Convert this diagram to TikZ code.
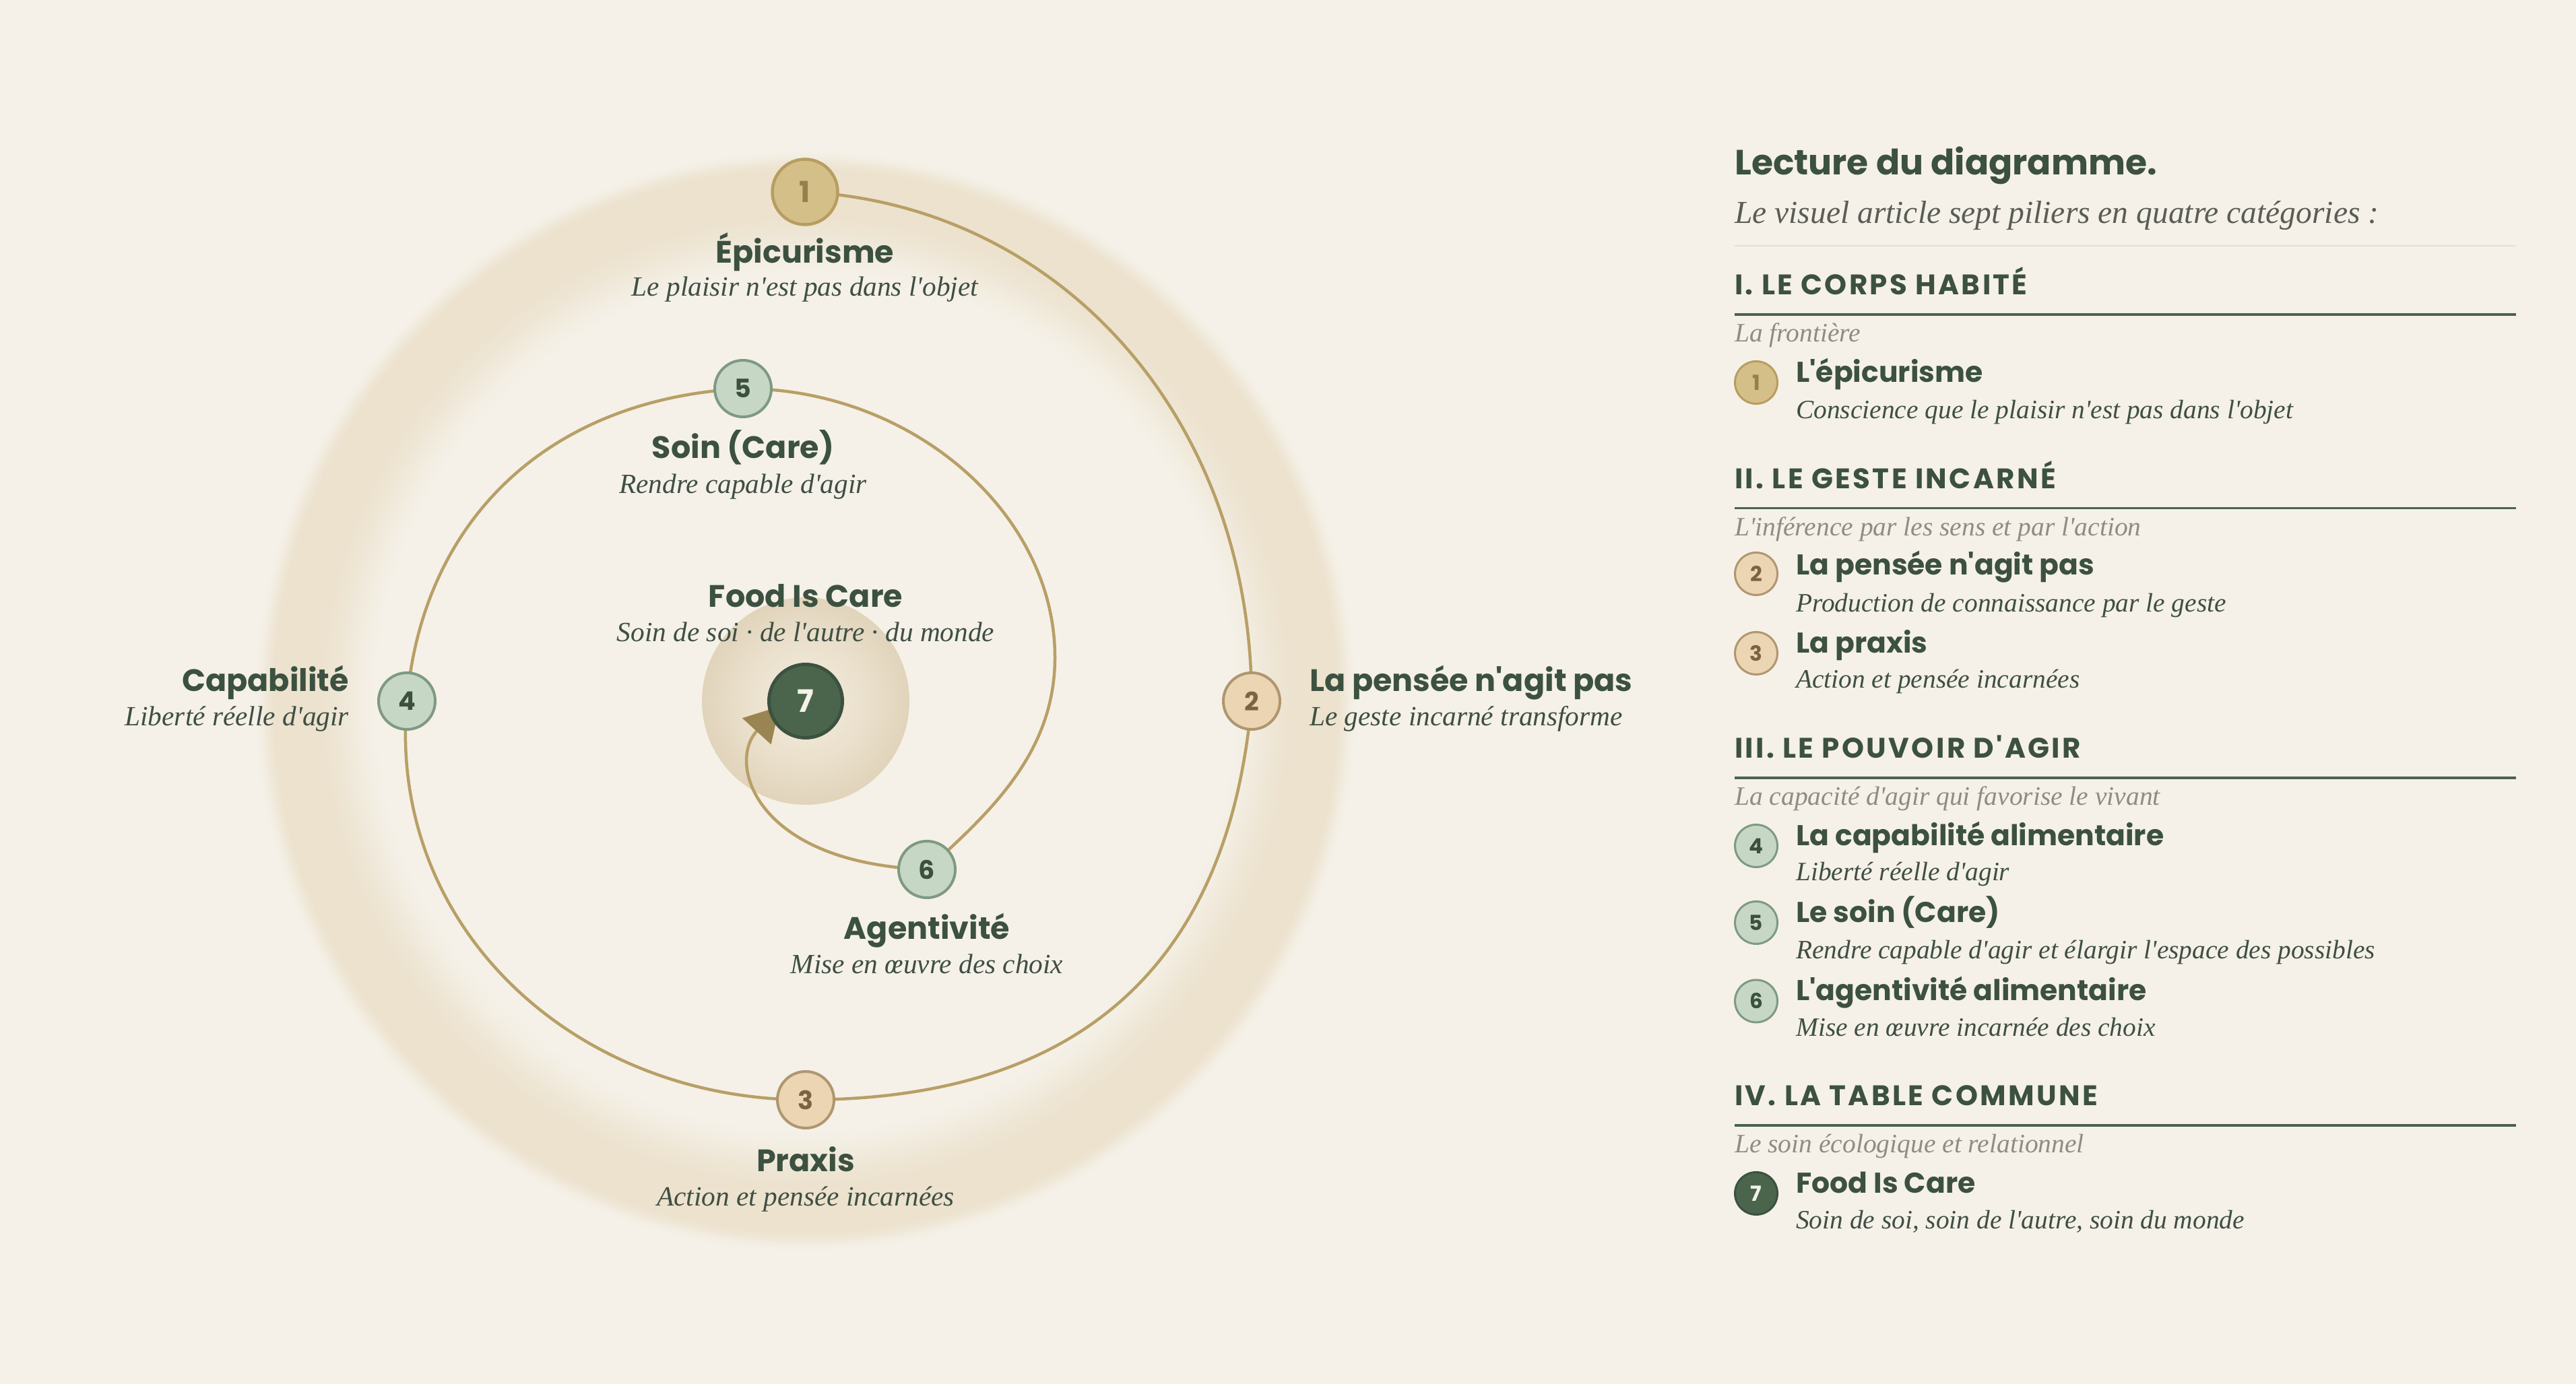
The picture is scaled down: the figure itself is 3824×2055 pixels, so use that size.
\documentclass[tikz,border=0pt]{standalone}
\usepackage{fontspec}
\setmainfont{Liberation Serif}[Ligatures=TeXOff]
\newfontfamily\pop{Poppins}[Ligatures=TeXOff]
\newfontfamily\popls{Poppins}[Ligatures=TeXOff,LetterSpace=8]
\newfontfamily\ser{Liberation Serif}[Ligatures=TeXOff]
\usetikzlibrary{arrows.meta}
\definecolor{bgc}{HTML}{F5F1E8}
\definecolor{haloc}{HTML}{ECE2CE}
\definecolor{hcen}{HTML}{F2EADB}
\definecolor{hedge}{HTML}{E1D4BB}
\definecolor{spir}{HTML}{B89F66}
\definecolor{arrc}{HTML}{9A8452}
\definecolor{goldf}{HTML}{D4BF89}
\definecolor{goldd}{HTML}{B89D60}
\definecolor{goldt}{HTML}{94804C}
\definecolor{peachf}{HTML}{EBD5B2}
\definecolor{peachd}{HTML}{B09670}
\definecolor{peacht}{HTML}{7D6440}
\definecolor{sagef}{HTML}{C7D7C5}
\definecolor{saged}{HTML}{7E9A82}
\definecolor{saget}{HTML}{3C5040}
\definecolor{darkf}{HTML}{4B654D}
\definecolor{darkd}{HTML}{3C5240}
\definecolor{ink}{HTML}{3C5140}
\definecolor{dink}{HTML}{3F4F43}
\definecolor{gink}{HTML}{8F8C82}
\definecolor{iink}{HTML}{5A5D55}
\definecolor{rulec}{HTML}{4A6350}
\definecolor{thinc}{HTML}{E7E0CF}
\pgfdeclarelayer{bottom}
\pgfdeclarelayer{halo}
\pgfdeclarelayer{lines}
\pgfsetlayers{bottom,halo,lines,main}
\begin{document}
\begin{tikzpicture}[x=1pt,y=1pt,
  ndgold/.style={circle,inner sep=0pt,fill=goldf,draw=goldd,text=goldt},
  ndpeach/.style={circle,inner sep=0pt,fill=peachf,draw=peachd,text=peacht},
  ndsage/.style={circle,inner sep=0pt,fill=sagef,draw=saged,text=saget},
  nddark/.style={circle,inner sep=0pt,fill=darkf,draw=darkd,text=bgc},
  bigdot/.style={minimum size=84pt,line width=4pt,font=\pop\bfseries\fontsize{38}{40}\selectfont},
  onedot/.style={minimum size=97pt,line width=4.5pt,font=\pop\bfseries\fontsize{43}{45}\selectfont},
  sevendot/.style={minimum size=109pt,line width=5pt,font=\pop\bfseries\fontsize{46}{48}\selectfont},
  smalldot/.style={minimum size=63pt,line width=3pt,font=\pop\bfseries\fontsize{31}{33}\selectfont},
  ttl/.style={inner sep=0pt,text=ink,font=\pop\bfseries\fontsize{46}{50}\selectfont},
  dsc/.style={inner sep=0pt,text=dink,font=\ser\itshape\fontsize{41.3}{46}\selectfont},
  hd/.style={inner sep=0pt,anchor=base west,text=ink,font=\pop\bfseries\fontsize{52}{58}\selectfont},
  intro/.style={inner sep=0pt,anchor=base west,text=iink,font=\ser\itshape\fontsize{47.5}{52}\selectfont},
  cat/.style={inner sep=0pt,anchor=base west,text=ink,font=\popls\bfseries\fontsize{42}{46}\selectfont},
  catsub/.style={inner sep=0pt,anchor=base west,text=gink,font=\ser\itshape\fontsize{39.5}{44}\selectfont},
  ititle/.style={inner sep=0pt,anchor=base west,text=ink,font=\pop\bfseries\fontsize{42.5}{47}\selectfont},
  idesc/.style={inner sep=0pt,anchor=base west,text=dink,font=\ser\itshape\fontsize{39.4}{44}\selectfont},
  spiral/.style={draw=spir,line width=4.5pt},
  catrule/.style={draw=rulec,line width=3.5pt},
  thinrule/.style={draw=thinc,line width=2.5pt}]
\useasboundingbox (0,0) rectangle (3824,2055);
\begin{pgfonlayer}{bottom}
\fill[bgc] (0,0) rectangle (3824,2055);
\end{pgfonlayer}
\coordinate (ctr) at (1196,1014);
% spiral nodes
\node[ndgold,onedot] (n1) at (1195,1770) {1};
\node[ndpeach,bigdot] (n2) at (1858,1014) {2};
\node[ndpeach,bigdot] (n3) at (1196,422) {3};
\node[ndsage,bigdot] (n4) at (604,1014) {4};
\node[ndsage,bigdot] (n5) at (1103,1478) {5};
\node[ndsage,bigdot] (n6) at (1376,764) {6};
\node[nddark,sevendot] (n7) at (ctr) {7};
\coordinate (p56) at (1566,1079);
\coordinate (tip) at (1157,1006);
% labels
\node[ttl,anchor=base] (t1) at (1195,1664) {Épicurisme};
\node[dsc,anchor=base] (d1) at (1195,1615) {Le plaisir n'est pas dans l'objet};
\node[ttl,anchor=base] (t5) at (1103,1374) {Soin (Care)};
\node[dsc,anchor=base] (d5) at (1103,1322) {Rendre capable d'agir};
\node[ttl,anchor=base] (t7) at (1196,1153) {Food Is Care};
\node[dsc,anchor=base] (d7) at (1196,1102) {Soin de soi · de l'autre · du monde};
\node[ttl,anchor=base east] (t4) at (518,1028) {Capabilité};
\node[dsc,anchor=base east] (d4) at (518,977) {Liberté réelle d'agir};
\node[ttl,anchor=base west] (t2) at (1944,1028) {La pensée n'agit pas};
\node[dsc,anchor=base west] (d2) at (1944,977) {Le geste incarné transforme};
\node[ttl,anchor=base] (t6) at (1376,660) {Agentivité};
\node[dsc,anchor=base] (d6) at (1376,609) {Mise en œuvre des choix};
\node[ttl,anchor=base] (t3) at (1196,315) {Praxis};
\node[dsc,anchor=base] (d3) at (1196,264.5) {Action et pensée incarnées};
% spiral path
\begin{pgfonlayer}{lines}
\draw[spiral] (n1.center) to[out=-3,in=90,out distance=380pt,in distance=420pt] (n2.center)
  to[out=-95,in=0,out distance=380pt,in distance=420pt] (n3.center)
  to[out=180,in=-95,out distance=340pt,in distance=340pt] (n4.center)
  to[out=85,in=183,out distance=270pt,in distance=290pt] (n5.center)
  to[out=0,in=90,out distance=250pt,in distance=215pt] (p56)
  to[out=-90,in=42,out distance=140pt,in distance=130pt] (n6.center);
\draw[spiral,-{Triangle[length=50pt,width=58pt,line width=0pt,color=arrc,fill=arrc]}]
  (n6.center) to[out=178,in=227.5,out distance=255pt,in distance=115pt] (tip);
\end{pgfonlayer}
% halos
\begin{pgfonlayer}{halo}
\foreach \r in {820,818,...,626}{
  \pgfmathsetmacro{\hT}{(\r>786)?((820-\r)/34):((\r>730)?1:max(0,(\r-630)/100))}
  \pgfmathtruncatemacro{\pp}{100*\hT*\hT*(3-2*\hT)}
  \fill[haloc!\pp!bgc] (ctr) circle[radius=\r];
}
\fill[bgc] (ctr) circle[radius=626];
\foreach \r in {154,151,...,1}{
  \pgfmathtruncatemacro{\pp}{100*(\r/154)^1.4}
  \fill[hedge!\pp!hcen] (ctr) circle[radius=\r];
}
\end{pgfonlayer}
% right panel
\node[hd] (h0) at (2575,1795) {Lecture du diagramme.};
\node[intro] (h1) at (2575,1723) {Le visuel article sept piliers en quatre catégories :};
\draw[thinrule] (2575,1690) -- (3735,1690);
\node[cat] (c1) at (2575,1617) {I. LE CORPS HABITÉ};
\draw[catrule] (2575,1588) -- (3735,1588);
\node[catsub] (s1) at (2575,1547) {La frontière};
\node[ndgold,smalldot] (r1) at (2607,1487) {1};
\node[ititle] (i1) at (2666,1487) {L'épicurisme};
\node[idesc] (e1) at (2666,1433) {Conscience que le plaisir n'est pas dans l'objet};
\node[cat] (c2) at (2575,1329.5) {II. LE GESTE INCARNÉ};
\draw[catrule] (2575,1300.5) -- (3735,1300.5);
\node[catsub] (s2) at (2575,1259) {L'inférence par les sens et par l'action};
\node[ndpeach,smalldot] (r2) at (2607,1203) {2};
\node[ititle] (i2) at (2666,1201) {La pensée n'agit pas};
\node[idesc] (e2) at (2666,1146) {Production de connaissance par le geste};
\node[ndpeach,smalldot] (r3) at (2607,1085) {3};
\node[ititle] (i3) at (2666,1085) {La praxis};
\node[idesc] (e3) at (2666,1033) {Action et pensée incarnées};
\node[cat] (c3) at (2575,929.5) {III. LE POUVOIR D'AGIR};
\draw[catrule] (2575,900) -- (3735,900);
\node[catsub] (s3) at (2575,859) {La capacité d'agir qui favorise le vivant};
\node[ndsage,smalldot] (r4) at (2607,799) {4};
\node[ititle] (i4) at (2666,799) {La capabilité alimentaire};
\node[idesc] (e4) at (2666,747) {Liberté réelle d'agir};
\node[ndsage,smalldot] (r5) at (2607,685) {5};
\node[ititle] (i5) at (2666,685) {Le soin (Care)};
\node[idesc] (e5) at (2666,631) {Rendre capable d'agir et élargir l'espace des possibles};
\node[ndsage,smalldot] (r6) at (2607,568.5) {6};
\node[ititle] (i6) at (2666,569) {L'agentivité alimentaire};
\node[idesc] (e6) at (2666,516) {Mise en œuvre incarnée des choix};
\node[cat] (c4) at (2575,413) {IV. LA TABLE COMMUNE};
\draw[catrule] (2575,384) -- (3735,384);
\node[catsub] (s4) at (2575,343) {Le soin écologique et relationnel};
\node[nddark,smalldot] (r7) at (2607,283) {7};
\node[ititle] (i7) at (2666,283) {Food Is Care};
\node[idesc] (e7) at (2666,230.5) {Soin de soi, soin de l'autre, soin du monde};
\end{tikzpicture}
\end{document}
